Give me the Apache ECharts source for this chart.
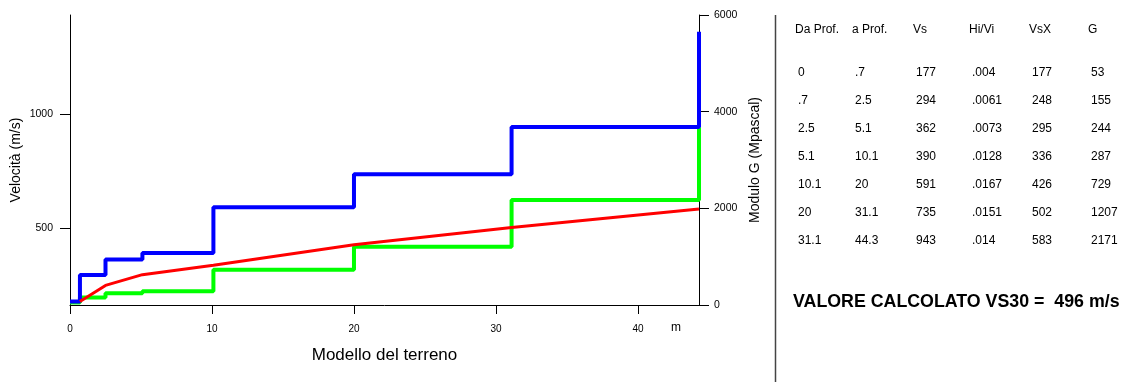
<!DOCTYPE html>
<html>
<head>
<meta charset="utf-8">
<script src="https://cdn.jsdelivr.net/npm/echarts@6/dist/echarts.min.js"></script>
<style>
html,body{margin:0;padding:0;background:#fff;}
#c{width:1123px;height:382px;}
</style>
</head>
<body>
<div id="c"></div>
<script>
// ---- data ----
const headers = ['Da Prof.', 'a Prof.', 'Vs', 'Hi/Vi', 'VsX', 'G'];
const daProf = ['0', '.7', '2.5', '5.1', '10.1', '20', '31.1'];
const aProf = ['.7', '2.5', '5.1', '10.1', '20', '31.1', '44.3'];
const vs = [177, 294, 362, 390, 591, 735, 943];
const hiVi = ['.004', '.0061', '.0073', '.0128', '.0167', '.0151', '.014'];
const vsx = [177, 248, 295, 336, 426, 502, 583];
const gMod = [53, 155, 244, 287, 729, 1207, 2171];
const vsEnd = 1360;      // blue line end value at max depth
const gEnd = 3680;       // green line end value at max depth
const xTicks = [0, 10, 20, 30, 40];
const vTicks = [500, 1000];
const gTicks = [0, 2000, 4000, 6000];
const vs30Text = 'VALORE CALCOLATO VS30 =  496 m/s';

// ---- build series from arrays ----
function steps(vals, endVal) {
  const pts = [];
  for (let i = 0; i < vals.length; i++) {
    pts.push([parseFloat(daProf[i]), vals[i]]);
    pts.push([parseFloat(aProf[i]), vals[i]]);
  }
  pts.push([parseFloat(aProf[aProf.length - 1]), endVal]);
  return pts;
}
const blueData = steps(vs, vsEnd);
const greenData = steps(gMod, gEnd);
const redData = vsx.map((v, i) => [parseFloat(aProf[i]), v]);
const maxDepth = parseFloat(aProf[aProf.length - 1]);

const FONT = 'Liberation Sans, Arial, sans-serif';
const plain = v => String(v);

// table graphics
const colX = [795, 852, 913, 969, 1029, 1088];
const valOff = 3;
const graphics = [];
headers.forEach((h, j) => graphics.push({
  type: 'text', left: colX[j], top: 24,
  style: { text: h, font: '12px ' + FONT, fill: '#000' }
}));
const rows = daProf.map((d, i) => [d, aProf[i], String(vs[i]), hiVi[i], String(vsx[i]), String(gMod[i])]);
rows.forEach((r, i) => r.forEach((t, j) => graphics.push({
  type: 'text', left: colX[j] + valOff, top: 67 + i * 27.9,
  style: { text: t, font: '12px ' + FONT, fill: '#000' }
})));
graphics.push({
  type: 'text', left: 793, top: 293,
  style: { text: vs30Text, font: 'bold 17.8px ' + FONT, fill: '#000' }
});
graphics.push({
  type: 'line', shape: { x1: 775.5, y1: 15, x2: 775.5, y2: 382 },
  style: { stroke: '#444', lineWidth: 1.5 }
});
graphics.push({
  type: 'text', left: 671, top: 322,
  style: { text: 'm', font: '12px ' + FONT, fill: '#000' }
});

const axisLineStyle = { color: '#000', width: 1 };

const option = {
  animation: false,
  backgroundColor: '#fff',
  grid: { left: 70, right: 424, top: 15, bottom: 77, containLabel: false, outerBoundsMode: 'none' },
  xAxis: {
    type: 'value', min: 0, max: maxDepth,
    name: 'Modello del terreno', nameLocation: 'middle', nameGap: 42,
    nameTextStyle: { fontFamily: FONT, fontSize: 17, color: '#000' },
    axisLine: { onZero: false, lineStyle: axisLineStyle },
    axisTick: { length: 9, lineStyle: axisLineStyle, customValues: xTicks },
    axisLabel: { customValues: xTicks, formatter: plain, fontFamily: FONT, fontSize: 10, color: '#000', margin: 19 },
    splitLine: { show: false }
  },
  yAxis: [{
    type: 'value', min: 162, max: 1434, position: 'left',
    name: 'Velocità (m/s)', nameLocation: 'middle', nameRotate: 90, nameGap: 47, nameMoveOverlap: false,
    nameTextStyle: { fontFamily: FONT, fontSize: 14, color: '#000' },
    axisLine: { show: true, lineStyle: axisLineStyle },
    axisTick: { show: true, length: 10, lineStyle: axisLineStyle, customValues: vTicks },
    axisLabel: { customValues: vTicks, formatter: plain, fontFamily: FONT, fontSize: 10.5, color: '#000', margin: 17 },
    splitLine: { show: false }
  }, {
    type: 'value', min: 0, max: 6000, interval: 2000, position: 'right',
    name: 'Modulo G (Mpascal)', nameLocation: 'middle', nameRotate: 90, nameGap: 46,
    nameTextStyle: { fontFamily: FONT, fontSize: 14, color: '#000' },
    axisLine: { show: true, lineStyle: axisLineStyle },
    axisTick: { show: true, length: 10, lineStyle: axisLineStyle, customValues: gTicks },
    axisLabel: { customValues: gTicks, formatter: plain, fontFamily: FONT, fontSize: 10.5, color: '#000', margin: 15 },
    splitLine: { show: false }
  }],
  series: [{
    type: 'line', yAxisIndex: 1, data: greenData, showSymbol: false,
    lineStyle: { color: '#00ff00', width: 4 }, z: 2
  }, {
    type: 'line', yAxisIndex: 0, data: blueData, showSymbol: false,
    lineStyle: { color: '#0000ff', width: 4 }, z: 3
  }, {
    type: 'line', yAxisIndex: 0, data: redData, showSymbol: false,
    lineStyle: { color: '#ff0000', width: 3 }, z: 4
  }],
  graphic: graphics
};

const chart = echarts.init(document.getElementById('c'), null, { renderer: 'canvas' });
chart.setOption(option);
</script>
</body>
</html>
